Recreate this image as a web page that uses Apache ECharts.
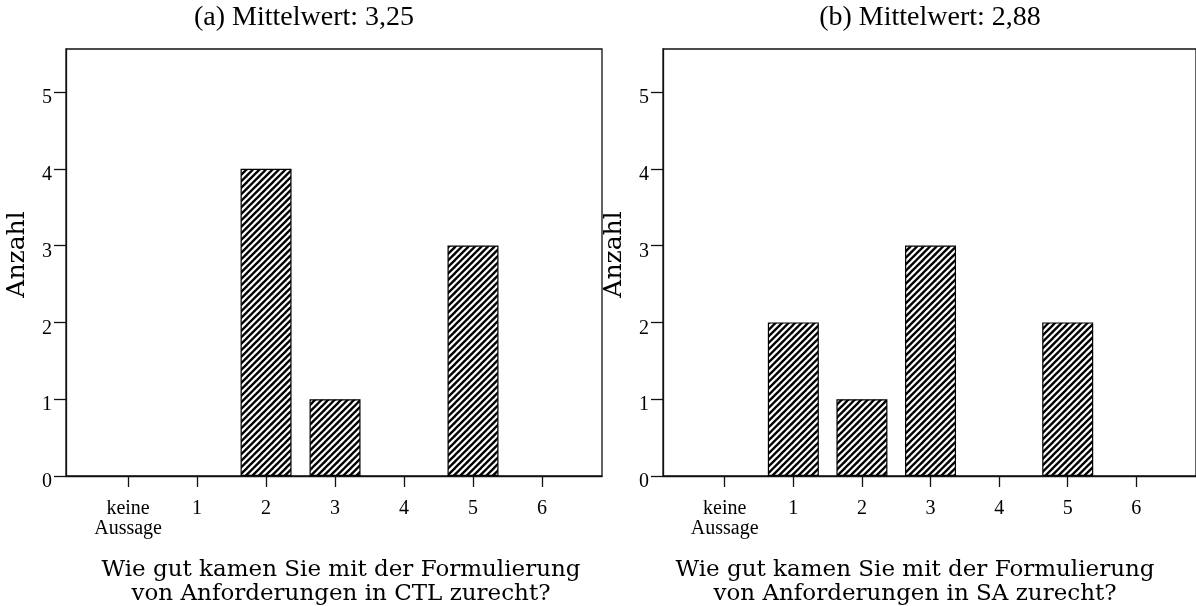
<!DOCTYPE html>
<html><head><meta charset="utf-8">
<script src="https://cdn.jsdelivr.net/npm/echarts@6/dist/echarts.min.js"></script>
<style>html,body{margin:0;padding:0;background:#fff}#c{width:1196px;height:606px}</style>
</head><body><div id="c"></div>
<script>
const categories = ['keine\nAussage', '1', '2', '3', '4', '5', '6'];
const countsCTL = [0, 0, 4, 1, 0, 3, 0];
const countsSA = [0, 2, 1, 3, 0, 2, 0];
const yTicks = [0, 1, 2, 3, 4, 5];
const titles = ['(a) Mittelwert: 3,25', '(b) Mittelwert: 2,88'];
const captions = [
  'Wie gut kamen Sie mit der Formulierung\nvon Anforderungen in CTL zurecht?',
  'Wie gut kamen Sie mit der Formulierung\nvon Anforderungen in SA zurecht?'
];
const yName = 'Anzahl';

function makeHatch() {
  const s = 13, c = document.createElement('canvas');
  c.width = s; c.height = s;
  const g = c.getContext('2d');
  g.fillStyle = '#fff'; g.fillRect(0, 0, s, s);
  g.strokeStyle = '#000'; g.lineWidth = 2.3;
  for (const o of [-13, -6.5, 0, 6.5, 13]) {
    g.beginPath(); g.moveTo(o - 2, s + 2); g.lineTo(o + s + 2, -2); g.stroke();
  }
  return c;
}
const hatch = makeHatch();
const serif = 'Liberation Serif';
const wide = 'DejaVu Serif';
const lineCol = '#111';
const catIdx = categories.map((_, i) => i);
const grids = [{left: 66}, {left: 663}];
const seriesData = [countsCTL, countsSA];

const option = {
  animation: false,
  backgroundColor: '#fff',
  grid: grids.map(g => ({left: g.left, top: 49, width: 536, height: 427, show: true,
    borderColor: lineCol, borderWidth: 1.3, backgroundColor: 'transparent'})),
  xAxis: grids.map((g, i) => ({
    type: 'value', gridIndex: i, min: -0.9, max: 6.87,
    axisLine: {show: true, onZero: false, lineStyle: {color: lineCol, width: 1.3}},
    axisTick: {show: true, customValues: catIdx, length: 11, lineStyle: {color: lineCol, width: 1.3}},
    axisLabel: {customValues: catIdx, formatter: v => categories[Math.round(v)], margin: 23,
      fontFamily: serif, fontSize: 20, lineHeight: 20, color: '#000'},
    splitLine: {show: false}
  })),
  yAxis: grids.map((g, i) => ({
    type: 'value', gridIndex: i, min: 0, max: 5.56,
    name: yName, nameLocation: 'middle', nameGap: 36,
    nameTextStyle: {fontFamily: wide, fontSize: 25, color: '#000', padding: [0, 0, 0, 16]},
    axisLine: {show: true, onZero: false, lineStyle: {color: lineCol, width: 1.3}},
    axisTick: {show: true, customValues: yTicks, length: 12, lineStyle: {color: lineCol, width: 1.3}},
    axisLabel: {customValues: yTicks, margin: 14, fontFamily: serif, fontSize: 20, color: '#000',
      verticalAlign: 'top', lineHeight: 12},
    splitLine: {show: false}
  })),
  series: seriesData.map((arr, i) => ({
    type: 'bar', xAxisIndex: i, yAxisIndex: i, barWidth: 51,
    data: arr.map((v, k) => v > 0 ? [k, v] : null).filter(d => d),
    itemStyle: {color: {image: hatch, repeat: 'repeat'}, borderColor: '#000', borderWidth: 1.2}
  })),
  graphic: [
    {type: 'text', x: 304, y: 18, style: {text: titles[0], fontFamily: serif, fontSize: 28, fill: '#000', align: 'center', verticalAlign: 'middle'}},
    {type: 'text', x: 930, y: 18, style: {text: titles[1], fontFamily: serif, fontSize: 28, fill: '#000', align: 'center', verticalAlign: 'middle'}},
    {type: 'text', x: 341, y: 582, style: {text: captions[0], fontFamily: wide, fontSize: 23, lineHeight: 24, fill: '#000', align: 'center', verticalAlign: 'middle'}},
    {type: 'text', x: 915, y: 582, style: {text: captions[1], fontFamily: wide, fontSize: 23, lineHeight: 24, fill: '#000', align: 'center', verticalAlign: 'middle'}}
  ]
};
const chart = echarts.init(document.getElementById('c'), null, {renderer: 'canvas'});
chart.setOption(option);
</script></body></html>
